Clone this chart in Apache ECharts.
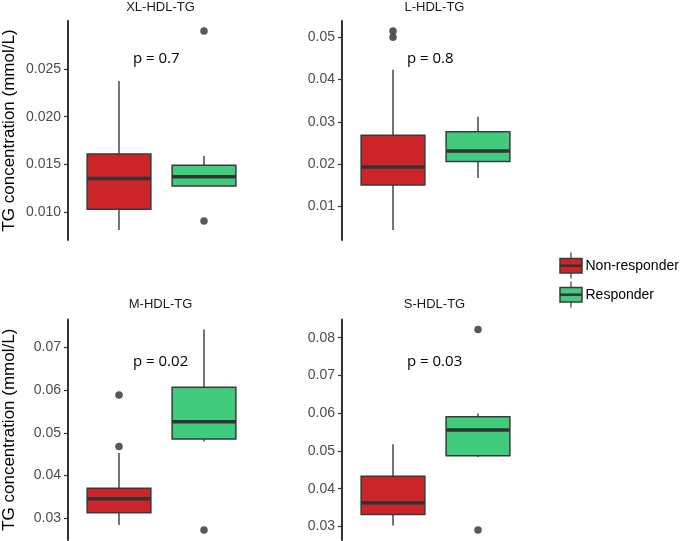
<!DOCTYPE html>
<html><head><meta charset="utf-8">
<script src="https://cdn.jsdelivr.net/npm/echarts@6/dist/echarts.min.js"></script>
<style>html,body{margin:0;padding:0;background:#fff}#c{width:685px;height:541px}</style>
</head><body><div id="c"></div>
<script>
// ---------------- data ----------------
const groups = ['Non-responder', 'Responder'];
const panelNames = ['XL-HDL-TG', 'L-HDL-TG', 'M-HDL-TG', 'S-HDL-TG'];
const pValues = ['p = 0.7', 'p = 0.8', 'p = 0.02', 'p = 0.03'];
// [lower whisker, Q1, median, Q3, upper whisker]
const nonResponderBox = [
  [0.00811, 0.0103, 0.01353, 0.01608, 0.02376],
  [0.00444, 0.0151, 0.01932, 0.02683, 0.04232],
  [0.02844, 0.03133, 0.03459, 0.03706, 0.04531],
  [0.03026, 0.03317, 0.03625, 0.0433, 0.05174]
];
const responderBox = [
  [0.01273, 0.01273, 0.0137, 0.0149, 0.01587],
  [0.01674, 0.02063, 0.02315, 0.02768, 0.0312],
  [0.0480, 0.04858, 0.05261, 0.0607, 0.07422],
  [0.0484, 0.04873, 0.05551, 0.05902, 0.05992]
];
const nonResponderOutliers = [[], [0.0515, 0.0500], [0.0589, 0.04685], []];
const responderOutliers = [[0.0290, 0.00906], [], [0.02727], [0.08216, 0.02905]];
const yTicks = [
  [0.010, 0.015, 0.020, 0.025],
  [0.01, 0.02, 0.03, 0.04, 0.05],
  [0.03, 0.04, 0.05, 0.06, 0.07],
  [0.03, 0.04, 0.05, 0.06, 0.07, 0.08]
];
const tickDecimals = [3, 2, 2, 2];
const yAxisTitle = 'TG concentration (mmol/L)';

// ---------------- layout / style ----------------
const colors = ['#CC2529', '#41CC7D'];
const grids = [
  {left: 68, top: 21, width: 187, height: 219},
  {left: 342, top: 21, width: 187, height: 219},
  {left: 68, top: 319.5, width: 187, height: 220.5},
  {left: 342, top: 319.5, width: 187, height: 220.5}
];
const strokeCol = '#3a3a3a';

function boxRender(params, api) {
  const x = api.value(0);
  const c = k => api.coord([x, api.value(k)]);
  const pMin = c(1), pQ1 = c(2), pMed = c(3), pQ3 = c(4), pMax = c(5);
  const hw = api.size([0.75, 0])[0] / 2;
  const cx = pMed[0];
  return {type: 'group', children: [
    {type: 'line', shape: {x1: cx, y1: pMax[1], x2: cx, y2: pQ3[1]}, style: {stroke: strokeCol, lineWidth: 1.4}},
    {type: 'line', shape: {x1: cx, y1: pQ1[1], x2: cx, y2: pMin[1]}, style: {stroke: strokeCol, lineWidth: 1.4}},
    {type: 'rect', shape: {x: cx - hw, y: pQ3[1], width: hw * 2, height: pQ1[1] - pQ3[1]},
      style: {fill: api.visual('color'), stroke: strokeCol, lineWidth: 1.5}},
    {type: 'line', shape: {x1: cx - hw, y1: pMed[1], x2: cx + hw, y2: pMed[1]}, style: {stroke: '#333', lineWidth: 3.5}}
  ]};
}

const xAxes = [], yAxes = [], series = [], titles = [], graphics = [];
panelNames.forEach((name, i) => {
  const g = grids[i];
  const all = nonResponderBox[i].concat(responderBox[i], nonResponderOutliers[i], responderOutliers[i]);
  const lo = Math.min(...all), hi = Math.max(...all), pad = (hi - lo) * 0.05;
  xAxes.push({type: 'value', gridIndex: i, min: 0.4, max: 2.6, show: false});
  yAxes.push({
    type: 'value', gridIndex: i, min: lo - pad, max: hi + pad,
    name: (i % 2 === 0) ? yAxisTitle : '',
    nameLocation: 'middle', nameGap: 50,
    nameTextStyle: {fontFamily: 'Liberation Sans, Arial', fontSize: 17, color: '#000'},
    axisLine: {show: true, lineStyle: {color: '#333', width: 2}},
    axisTick: {show: true, length: 4, lineStyle: {color: '#333', width: 1.2}, customValues: yTicks[i]},
    axisLabel: {customValues: yTicks[i], margin: 7, fontFamily: 'Liberation Sans, Arial', fontSize: 14, color: '#4d4d4d',
      formatter: v => Number(v).toFixed(tickDecimals[i])},
    splitLine: {show: false}
  });
  const boxes = [nonResponderBox[i], responderBox[i]];
  const outs = [nonResponderOutliers[i], responderOutliers[i]];
  groups.forEach((gname, k) => {
    series.push({
      type: 'custom', name: gname, xAxisIndex: i, yAxisIndex: i, color: colors[k],
      renderItem: boxRender, encode: {x: 0, y: [1, 2, 3, 4, 5]},
      data: [[k + 1].concat(boxes[k])], silent: true
    });
    series.push({
      type: 'scatter', xAxisIndex: i, yAxisIndex: i, symbolSize: 7.5, silent: true,
      itemStyle: {color: '#2e2e2e'}, data: outs[k].map(v => [k + 1, v])
    });
  });
  titles.push({
    text: name, left: g.left + g.width * 0.5 - 1, top: (i < 2) ? 1 : 298, textAlign: 'center', padding: 0,
    textStyle: {fontFamily: 'Liberation Sans, Arial', fontSize: 13, fontWeight: 'normal', color: '#1a1a1a'}
  });
  graphics.push({
    type: 'text', left: g.left + 65, top: (i < 2) ? 51 : 354,
    style: {text: pValues[i], fontFamily: 'Open Sans', fontSize: 15, fill: '#000'}
  });
});

// legend (boxplot glyph keys), absolute pixel placement
groups.forEach((gname, k) => {
  const y0 = 258.5 + k * 29;
  graphics.push({type: 'line', shape: {x1: 571, y1: y0 - 6, x2: 571, y2: y0 + 20}, style: {stroke: strokeCol, lineWidth: 1.2}});
  graphics.push({type: 'rect', shape: {x: 560, y: y0, width: 22, height: 14.4}, style: {fill: colors[k], stroke: strokeCol, lineWidth: 1.5}});
  graphics.push({type: 'line', shape: {x1: 560, y1: y0 + 7.2, x2: 582, y2: y0 + 7.2}, style: {stroke: '#333', lineWidth: 2.5}});
  graphics.push({type: 'text', x: 585.5, y: y0 + 7.5,
    style: {text: gname, fontFamily: 'Liberation Sans, Arial', fontSize: 14, fill: '#000', verticalAlign: 'middle', align: 'left'}});
});

const chart = echarts.init(document.getElementById('c'), null, {renderer: 'canvas'});
chart.setOption({
  backgroundColor: '#fff', animation: false,
  title: titles,
  grid: grids,
  xAxis: xAxes, yAxis: yAxes,
  series: series,
  graphic: graphics
});
</script></body></html>
